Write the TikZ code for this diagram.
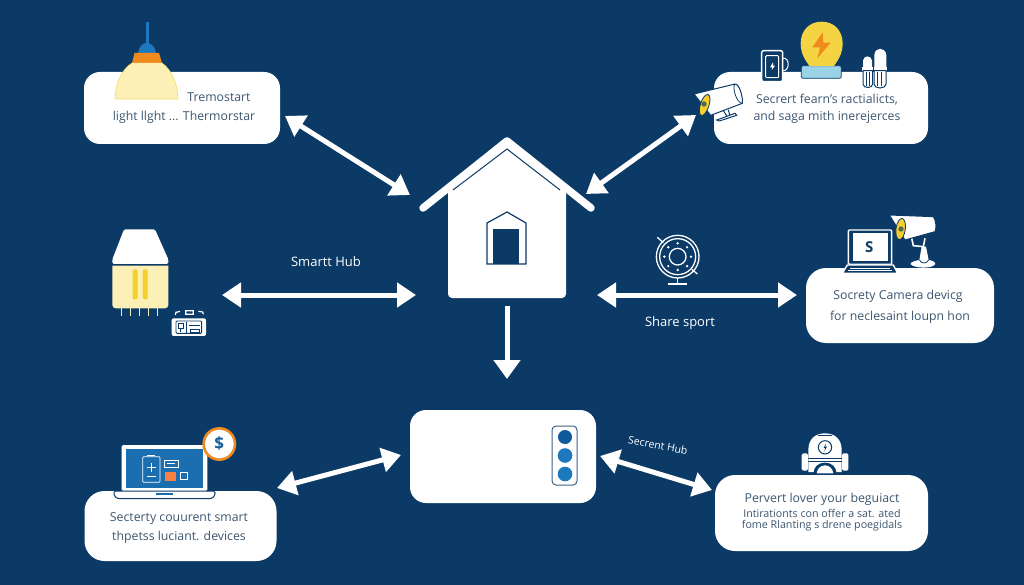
\documentclass[tikz,border=0pt]{standalone}
\usepackage{fontspec}
\setmainfont{Open Sans}
\usetikzlibrary{arrows.meta}
\definecolor{navy}{HTML}{0B3A66}
\definecolor{txt}{HTML}{3C5670}
\definecolor{cream}{HTML}{FDF0B6}
\definecolor{ylw}{HTML}{F4CF2E}
\definecolor{orng}{HTML}{F08A1D}
\definecolor{blu}{HTML}{1E78BE}
\definecolor{dkblu}{HTML}{0F5A9C}
\definecolor{lblu}{HTML}{9BD3E6}
\tikzset{
  card/.style={fill=white,draw=none,rounded corners=16pt,inner sep=0pt},
  link/.style={draw=white,line width=5pt,{Triangle[width=24pt,length=19pt]}-{Triangle[width=24pt,length=19pt]}},
  linkone/.style={draw=white,line width=5pt,-{Triangle[width=26pt,length=19pt]}},
  label/.style={text=txt,font=\fontsize{12.3}{14}\selectfont,inner sep=0pt},
  labelsm/.style={text=txt,font=\fontsize{10.7}{12}\selectfont,inner sep=0pt},
  onnavy/.style={text=white,font=\fontsize{13}{15}\selectfont,inner sep=0pt},
  ico/.style={draw=white,line width=1.4pt,line join=round,line cap=round},
}
\begin{document}
\begin{tikzpicture}[x=1pt,y=-1pt]
\useasboundingbox (0,0) rectangle (1024,585);
\fill[navy] (0,0) rectangle (1024,585);

% cards
\node[card,minimum width=196pt,minimum height=72pt] (lightcard) at (182,108) {};
\node[card,minimum width=214pt,minimum height=72pt] (seccard) at (821,108) {};
\node[card,minimum width=188pt,minimum height=75pt,rounded corners=20pt] (camcard) at (900,305.5) {};
\node[card,minimum width=192pt,minimum height=70pt,rounded corners=20pt] (laptopcard) at (180.5,526) {};
\node[card,minimum width=213pt,minimum height=76pt,rounded corners=20pt] (robotcard) at (821.5,513) {};
\node[card,minimum width=186pt,minimum height=93pt] (hubdev) at (503,456.5) {};

% house
\fill[white] (448,190) -- (507,143) -- (566,190) -- (566,294) arc[start angle=0,end angle=90,radius=4] -- (452,298) arc[start angle=90,end angle=180,radius=4] -- cycle;
\draw[white,line width=7.5pt,line cap=round,line join=round] (423,208) -- (507,141) -- (591,208);
\draw[navy,line width=1pt] (453,190) -- (507,149) -- (560,190);
\draw[navy,line width=1.2pt] (487,264) -- (487,223) -- (507,212) -- (526,223) -- (526,264) -- cycle;
\fill[navy] (493,229) rectangle (519,264);

% hub panel
\draw[draw=navy!80,line width=1pt,rounded corners=4pt] (552,426) rectangle (577,485);
\fill[dkblu] (565,437) circle (7);
\fill[blu] (565,455.5) circle (7.3);
\fill[blu] (565,474) circle (7.3);

% connector ends
\coordinate (a1) at (285,116); \coordinate (a2) at (410,195);
\coordinate (b1) at (696,115); \coordinate (b2) at (586,194);
\coordinate (c1) at (222,295); \coordinate (c2) at (416,295);
\coordinate (d1) at (597,295); \coordinate (d2) at (797,295);
\coordinate (e1) at (507,306); \coordinate (e2) at (507,379);
\coordinate (f1) at (277,488); \coordinate (f2) at (401,455);
\coordinate (g1) at (600,456); \coordinate (g2) at (712,490);
\draw[link] (a1) -- (a2);
\draw[link] (b1) -- (b2);
\draw[link] (c1) -- (c2);
\draw[link] (d1) -- (d2);
\draw[linkone] (e1) -- (e2);
\draw[link] (f1) -- (f2);
\draw[link] (g1) -- (g2);

% lamp
\draw[blu,line width=3pt] (147,22) -- (147,45);
\fill[blu] (138,53) .. controls (139,46) and (143,43) .. (147,43) .. controls (151,43) and (155,46) .. (156,53) -- cycle;
\fill[orng] (134.5,53) -- (159,53) -- (162,63) -- (132,63) -- cycle;
\fill[cream] (132,63) -- (162,63) .. controls (172,70) and (178,85) .. (178,99) -- (115,99) .. controls (115,85) and (121,70) .. (132,63) -- cycle;
\draw[ylw!60!cream,line width=.6pt] (132,63) .. controls (121,70) and (115,85) .. (115,99) -- (178,99) .. controls (178,85) and (172,70) .. (162,63);

% top-right icons
\begin{scope}[shift={(680,10)},scale=1/3]
  \fill[lblu,draw=navy,line width=.8pt,rounded corners=2pt] (364,167) rectangle (484,205);
  \fill[ylw!90!white] (425,35) .. controls (465,35) and (488,65) .. (488,100) .. controls (488,135) and (470,155) .. (462,168) -- (388,168) .. controls (380,155) and (362,135) .. (362,100) .. controls (362,65) and (385,35) .. (425,35) -- cycle;
  \fill[orng] (428,67) -- (397,112) -- (420,112) -- (412,145) -- (452,98) -- (430,98) -- cycle;
  % mug
  \draw[ico,fill=navy,rounded corners=2pt] (245,122) rectangle (308,215);
  \draw[ico,line width=1pt] (308,145) .. controls (330,140) and (330,185) .. (308,182);
  \draw[ico,line width=1pt,rounded corners=1pt] (257,137) rectangle (296,203);
  \fill[white] (279,157) -- (270,172) -- (277,172) -- (275,180) -- (285,167) -- (279,167) -- cycle;
  % tubes
  \fill[white] (549,172) -- (549,152) .. controls (551,135) and (574,135) .. (576,152) -- (576,172) -- cycle;
  \fill[white] (583,172) -- (583,135) .. controls (585,110) and (616,110) .. (619,135) -- (619,172) -- cycle;
  \fill[white] (545,170) rectangle (622,182);
  \draw[navy,line width=.8pt] (580,170) -- (580,182);
  \draw[navy,line width=1pt,fill=white] (549,182) -- (578,182) -- (578,222) .. controls (578,236) and (549,236) .. (549,222) -- cycle;
  \draw[navy,line width=1pt,fill=white] (582,182) -- (618,182) -- (618,222) .. controls (618,238) and (582,238) .. (582,222) -- cycle;
  \foreach \x in {558,568,592,603}{\draw[navy,line width=.8pt] (\x,186) -- (\x,228);}
  % camera
  \draw[navy,line width=1pt,fill=white,line join=round] (42,252) -- (165,222) .. controls (178,220) and (190,265) .. (187,280) -- (92,316) -- cycle;
  \draw[navy,line width=.8pt] (165,222) .. controls (155,232) and (170,280) .. (187,280);
  \fill[ylw,draw=navy,line width=.8pt,rotate around={-18:(74,285)}] (74,285) ellipse (13 and 33);
  \fill[navy!70!ylw] (72,282) circle (8);
  \draw[navy,line width=1pt,line cap=round] (130,302) -- (143,322) (145,300) -- (150,318);
  \draw[navy,line width=1pt,fill=white] (110,330) -- (165,310) -- (170,316) -- (118,333) -- cycle;
\end{scope}

% left device icon
\begin{scope}[shift={(90,220)},scale=1/3]
  \fill[white,rounded corners=1.5pt] (102,28) -- (195,28) -- (235,118) -- (235,132) -- (67,132) -- (67,118) -- cycle;
  \fill[cream] (67,137) -- (235,137) -- (235,255) arc[start angle=0,end angle=90,radius=10] -- (77,265) arc[start angle=90,end angle=180,radius=10] -- cycle;
  \fill[ylw,rounded corners=2pt] (128,148) rectangle (143,238);
  \fill[ylw,rounded corners=2pt] (158,148) rectangle (173,238);
  \foreach \x in {95,122,148,175,203}{\draw[cream,line width=1pt] (\x,265) -- (\x,288);}
  \fill[white,rounded corners=2pt] (245,295) rectangle (348,348);
  \draw[navy,line width=.9pt,rounded corners=1pt] (258,303) rectangle (335,340);
  \draw[navy,line width=.9pt] (265,310) rectangle (280,325) (272,325) -- (272,335) (290,305) -- (290,338) (296,315) -- (330,315) (300,328) rectangle (328,338);
  \draw[white,line width=1.2pt] (256,285) -- (258,277) -- (270,274) (287,272) rectangle (310,283) (325,274) -- (338,276) -- (340,283);
\end{scope}

% dial, laptop, second camera
\begin{scope}[shift={(640,200)},scale=1/3]
  \draw[white,line width=1.3pt] (113,170) circle (64);
  \draw[white,line width=1.3pt] (113,170) circle (54);
  \draw[white,line width=1.3pt] (113,170) circle (25);
  \foreach \a in {0,45,...,315}{\fill[white] (113,170) ++(\a:40) circle (4);}
  \draw[white,line width=1.3pt] (52,112) -- (70,128) (172,222) -- (155,208);
  \draw[white,line width=1.6pt] (113,234) -- (113,250);
  \draw[white,line width=2pt] (85,252) -- (140,252);
  % laptop
  \draw[white,line width=1.4pt,fill=navy,rounded corners=1pt] (625,90) rectangle (755,193);
  \fill[white] (638,100) rectangle (745,183);
  \node[text=navy,font=\bfseries\fontsize{15}{15}\selectfont,inner sep=0pt] (lapS) at (688,141) {S};
  \draw[white,line width=1.4pt,fill=navy] (622,195) -- (760,195) -- (773,220) -- (607,220) -- cycle;
  \fill[white] (607,220) rectangle (773,228);
  \draw[white,line width=.8pt] (630,205) -- (750,205) (625,212) -- (755,212);
  % camera
  \draw[white,line width=1.6pt] (815,115) -- (820,137) -- (850,140) -- (855,115);
  \fill[white] (845,140) -- (858,140) -- (866,180) .. controls (880,182) and (888,188) .. (885,193) .. controls (878,206) and (825,206) .. (812,193) .. controls (808,188) and (825,182) .. (838,180) -- cycle;
  \draw[navy,line width=.8pt] (838,180) .. controls (845,192) and (860,192) .. (866,180);
  \draw[navy,line width=1pt,fill=white,line join=round] (748,45) -- (880,50) .. controls (888,60) and (890,85) .. (885,95) -- (795,120) -- cycle;
  \fill[ylw,draw=navy,line width=.8pt,rotate around={-8:(782,87)}] (782,87) ellipse (14 and 32);
  \fill[navy!70!ylw] (783,87) circle (8);
\end{scope}

% laptop bottom left
\begin{scope}[shift={(90,420)},scale=1/3]
  \fill[white,rounded corners=1.5pt] (95,75) rectangle (352,213);
  \fill[blu!85!navy] (107,87) rectangle (340,203);
  \draw[white,line width=.8pt,rounded corners=1pt] (158,110) rectangle (210,187);
  \draw[white,line width=.8pt] (172,105) -- (195,105);
  \draw[white,line width=.8pt] (170,142) -- (198,142) (184,130) -- (184,155) (170,170) -- (198,170);
  \draw[white,line width=.8pt] (222,120) rectangle (266,143);
  \draw[white,line width=.8pt] (230,130) -- (255,130);
  \fill[orng!70!red!80!white] (225,156) rectangle (257,183);
  \draw[white,line width=.8pt] (270,156) rectangle (293,177);
  \draw[navy,line width=1pt,fill=white,rounded corners=1.5pt] (72,213) -- (375,213) -- (375,226) -- (365,236) -- (82,236) -- (72,226) -- cycle;
  \fill[blu!80!navy] (197,220) rectangle (250,225);
  \fill[white,draw=orng,line width=2.6pt] (388,72) circle (47);
  \node[text=blu!60!navy,font=\bfseries\fontsize{17}{17}\selectfont,inner sep=0pt] (coinS) at (388,72) {\$};
\end{scope}

% robot
\begin{scope}[shift={(600,420)},scale=1/3]
  \fill[white] (625,156) -- (625,90) .. controls (625,58) and (645,40) .. (675,40) .. controls (705,40) and (725,58) .. (725,90) -- (725,156) -- cycle;
  \draw[navy,line width=.8pt] (655,47) -- (695,47);
  \draw[navy,line width=.8pt] (625,116) -- (725,116) (625,125) -- (725,125);
  \fill[white,rounded corners=1.5pt] (605,100) rectangle (624,152);
  \fill[white,rounded corners=1.5pt] (726,100) rectangle (745,152);
  \fill[navy] (640,160) .. controls (642,140) and (655,128) .. (675,128) .. controls (695,128) and (708,140) .. (710,160) -- cycle;
  \fill[white] (650,160) .. controls (652,146) and (662,136) .. (675,136) .. controls (688,136) and (698,146) .. (700,160) -- cycle;
  \draw[navy,line width=1pt] (675,82) circle (20);
  \fill[navy] (678,70) -- (671,84) -- (676,84) -- (673,94) -- (681,80) -- (676,80) -- cycle;
\end{scope}

% labels
\node[label] (t1a) at (219,97) {Tremostart};
\node[label] (t1b) at (184,117) {light llght ... Thermorstar};
\node[label] (t2a) at (827,100) {Secrert fearn's ractialicts,};
\node[label] (t2b) at (827,117) {and saga mith inerejerces};
\node[label] (t3a) at (898,296) {Socrety Camera devicg};
\node[label] (t3b) at (900,317) {for neclesaint loupn hon};
\node[label] (t4a) at (179,519) {Secterty couurent smart};
\node[label] (t4b) at (179,537) {thpetss luciant. devices};
\node[label] (t5a) at (822,499) {Pervert lover your beguiact};
\node[labelsm] (t5b) at (822,513) {Intirationts con offer a sat. ated};
\node[labelsm] (t5c) at (822,526) {fome Rlanting s drene poegidals};
\node[onnavy] (hublab) at (326,262) {Smartt Hub};
\node[onnavy] (sharelab) at (680,323) {Share sport};
\node[onnavy,font=\fontsize{10.5}{12}\selectfont,rotate=-11] (seclab) at (658,445) {Secrent Hub};
\end{tikzpicture}
\end{document}
